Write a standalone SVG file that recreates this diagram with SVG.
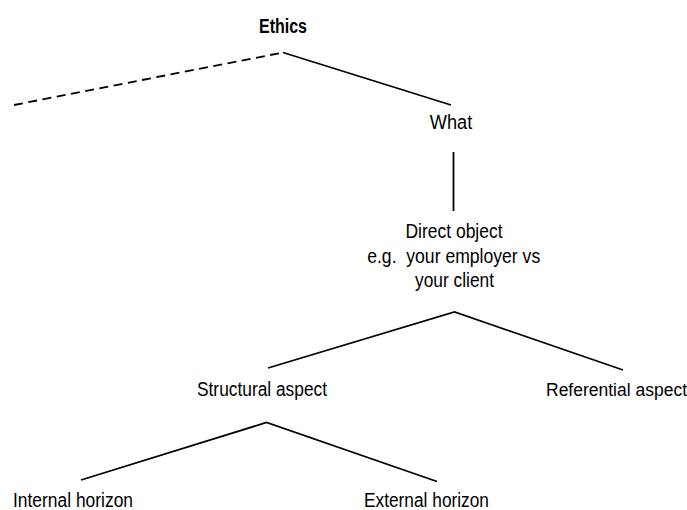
<svg xmlns="http://www.w3.org/2000/svg" width="687" height="510" viewBox="0 0 687 510">
  <style>
    .lbl { font-family: "Liberation Sans", Arial, sans-serif; font-size: 19.5px; fill: #000; text-anchor: middle; }
    .title { font-weight: bold; font-size: 20px; }
    .edge { fill: none; stroke: #000; stroke-width: 1.8; stroke-linecap: butt; stroke-linejoin: miter; }
    .dashed { stroke-dasharray: 9 5.5; }
  </style>
  <rect width="687" height="510" fill="#fff"/>

  <!-- connectors -->
  <g id="connectors">
    <line class="edge dashed" x1="14" y1="105" x2="283" y2="52.5"/>
    <line class="edge" x1="283" y1="52.5" x2="451" y2="105"/>
    <line class="edge" x1="453.5" y1="152" x2="453.5" y2="211"/>
    <polyline class="edge" points="268,368 454.5,312 623,370"/>
    <polyline class="edge" points="81,480 266.5,422.5 437,481.5"/>
  </g>

  <!-- nodes -->
  <g id="ethics">
    <text class="lbl title" x="283" y="32.5" textLength="48" lengthAdjust="spacingAndGlyphs">Ethics</text>
  </g>
  <g id="what">
    <text class="lbl" x="451" y="129" textLength="42.5" lengthAdjust="spacingAndGlyphs">What</text>
  </g>
  <g id="direct-object">
    <text class="lbl" x="454" y="238" textLength="97" lengthAdjust="spacingAndGlyphs">Direct object</text>
    <text class="lbl" x="453.7" y="262.5" textLength="173" lengthAdjust="spacingAndGlyphs" xml:space="preserve">e.g.  your employer vs</text>
    <text class="lbl" x="454.5" y="287" textLength="79" lengthAdjust="spacingAndGlyphs">your client</text>
  </g>
  <g id="structural-aspect">
    <text class="lbl" x="262" y="396" textLength="130" lengthAdjust="spacingAndGlyphs">Structural aspect</text>
  </g>
  <g id="referential-aspect">
    <text class="lbl" x="546" y="396" style="text-anchor:start;font-size:17.5px">Referential aspect</text>
  </g>
  <g id="internal-horizon">
    <text class="lbl" x="73" y="507" textLength="120" lengthAdjust="spacingAndGlyphs">Internal horizon</text>
  </g>
  <g id="external-horizon">
    <text class="lbl" x="426.5" y="507" textLength="125" lengthAdjust="spacingAndGlyphs">External horizon</text>
  </g>
</svg>
